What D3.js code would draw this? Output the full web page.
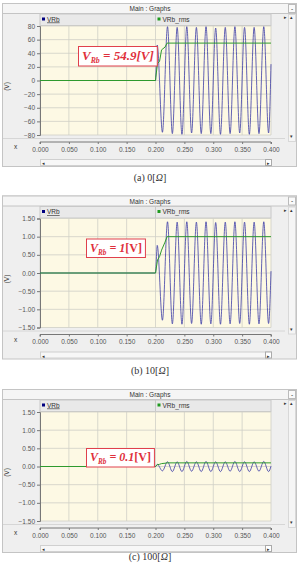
<!DOCTYPE html>
<html>
<head>
<meta charset="utf-8">
<script src="https://cdn.jsdelivr.net/npm/d3@7"></script>
<style>
  body { margin: 0; background: #fff; }
  svg { display: block; }
  .tick text { font-family: "Liberation Sans", Arial, sans-serif; font-size: 6.5px; fill: #555; }
  .small { font-family: "Liberation Sans", Arial, sans-serif; font-size: 6.5px; fill: #333; }
  .caption { font-family: "Liberation Serif", "DejaVu Serif", serif; font-size: 10px; fill: #333; }
  .ann { font-family: "Liberation Serif", "Times New Roman", serif; font-weight: bold; fill: #e0303c; }
</style>
</head>
<body>
<div id="chart"></div>
<script>
// ------------------------------------------
//  Data
// ------------------------------------------
const xTicks = [0, 0.05, 0.1, 0.15, 0.2, 0.25, 0.3, 0.35, 0.4];
const yTicksA = [80, 60, 40, 20, 0, -20, -40, -60, -80];
const yTicksB = [1.5, 1.0, 0.5, 0.0, -0.5, -1.0, -1.5];
const yTicksC = [1.5, 1.0, 0.5, 0.0, -0.5, -1.0, -1.5];

// VRb extrema (time in s)
const waveT = [0, 0.2, 0.2030, 0.2120, 0.2208, 0.2292, 0.2375, 0.2458, 0.2542, 0.2625,
  0.2708, 0.2792, 0.2875, 0.2958, 0.3042, 0.3125, 0.3208, 0.3292, 0.3375, 0.3458,
  0.3542, 0.3625, 0.3708, 0.3792, 0.3875, 0.3958, 0.4];
const waveA = [0, 0, 52, -76, 79, -78, 78, -79, 79, -77, 78, -78, 79, -78,
  77, -79, 78, -78, 79, -77, 78, -79, 78, -78, 79, -77, 24];
const waveB = [0, 0, 0.76, -1.30, 1.41, -1.40, 1.40, -1.41, 1.41, -1.39, 1.40, -1.41, 1.41, -1.40,
  1.39, -1.41, 1.40, -1.40, 1.41, -1.39, 1.40, -1.41, 1.40, -1.40, 1.41, -1.39, 0.05];
const waveC = [0, 0, 0.06, -0.12, 0.13, -0.14, 0.13, -0.14, 0.14, -0.13, 0.13, -0.14, 0.14, -0.14,
  0.13, -0.14, 0.13, -0.13, 0.14, -0.14, 0.13, -0.14, 0.13, -0.13, 0.14, -0.14, 0.01];

// VRb_rms
const rmsT = [0, 0.2, 0.2005, 0.2035, 0.207, 0.2105, 0.2165, 0.22, 0.4];
const rmsA = [0, 0, 5, 25, 28, 45, 49, 54.9, 54.9];
const rmsB = [0, 0, 0.05, 0.36, 0.45, 0.63, 0.85, 1.0, 1.0];
const rmsC = [0, 0, 0.01, 0.05, 0.06, 0.08, 0.09, 0.1, 0.1];

const annValues = ["54.9", "1", "0.1"];
const captions = ["(a)  0[", "(b)  10[", "(c)  100["];
const seriesNames = ["VRb", "VRb_rms"];

// ------------------------------------------
//  Layout
// ------------------------------------------
const W = 299, H = 563;
const plotX0 = 40, plotX1 = 271, plotH = 109;

const panels = [
  { top: 26, yTicks: yTicksA, domain: [-80, 80], fmt: d3.format("d"), wave: waveA, rms: rmsA,
    ann: { x: 78, y: 20, size: 13, italicUnit: true } },
  { top: 218.5, yTicks: yTicksB, domain: [-1.5, 1.5], fmt: d3.format(".2f"), wave: waveB, rms: rmsB,
    ann: { x: 86, y: 20, size: 12, italicUnit: false } },
  { top: 412, yTicks: yTicksC, domain: [-1.5, 1.5], fmt: d3.format(".2f"), wave: waveC, rms: rmsC,
    ann: { x: 86, y: 36, size: 12, italicUnit: false } }
];

const svg = d3.select("#chart").append("svg").attr("width", W).attr("height", H);
const x = d3.scaleLinear().domain([0, 0.4]).range([plotX0, plotX1]);

function drawPanel(p, i) {
  const g = svg.append("g").attr("transform", `translate(0,${p.top})`);
  const y = d3.scaleLinear().domain(p.domain).range([plotH, 0]);

  // outer window
  g.append("rect").attr("x", 2.5).attr("y", -22.5).attr("width", 294).attr("height", 163)
    .attr("fill", "#efefef").attr("stroke", "#c4c4c4");
  // title bar
  g.append("rect").attr("x", 2.5).attr("y", -22.5).attr("width", 294).attr("height", 10)
    .attr("fill", "#f5f5f5").attr("stroke", "#c4c4c4");
  g.append("text").attr("class", "small").attr("x", 150).attr("y", -15)
    .attr("text-anchor", "middle").text("Main : Graphs");
  g.append("rect").attr("x", 288.5).attr("y", -21.5).attr("width", 7).attr("height", 8)
    .attr("fill", "#fafafa").attr("stroke", "#bbb");
  g.append("text").attr("class", "small").attr("x", 292).attr("y", -15.5)
    .attr("text-anchor", "middle").text("-");

  // legend tabs
  seriesNames.forEach((name, k) => {
    const tx = k === 0 ? 40 : 155.5;
    g.append("rect").attr("x", tx).attr("y", -12).attr("width", 115.5).attr("height", 11.5)
      .attr("fill", "#e9e9e9").attr("stroke", "#c8c8c8");
    g.append("rect").attr("x", tx + 2).attr("y", -8.5).attr("width", 3).attr("height", 3)
      .attr("fill", k === 0 ? "#000080" : "#1f9a1f");
    g.append("text").attr("class", "small").attr("x", tx + 7).attr("y", -4.5)
      .style("text-decoration", k === 0 ? "underline" : null).text(name);
  });

  // right-side scroller
  g.append("rect").attr("x", 288.5).attr("y", -11.5).attr("width", 7).attr("height", 127)
    .attr("fill", "#f5f5f5").attr("stroke", "#d8d8d8");
  g.append("text").attr("class", "small").attr("x", 284).attr("y", -7).style("font-size", "5px").text("\u25B8");
  g.append("text").attr("class", "small").attr("x", 290).attr("y", -7).style("font-size", "5px").text("\u25B4");
  g.append("text").attr("class", "small").attr("x", 290).attr("y", plotH + 3).style("font-size", "5px").text("\u25BE");

  // plot area
  g.append("rect").attr("x", plotX0).attr("y", 0).attr("width", plotX1 - plotX0).attr("height", plotH)
    .attr("fill", "#fdf9e4");
  g.append("g").selectAll("line").data(xTicks).join("line")
    .attr("x1", d => x(d)).attr("x2", d => x(d)).attr("y1", 0).attr("y2", plotH)
    .attr("stroke", "#cfcfc6").attr("stroke-width", 0.8);
  g.append("g").selectAll("line").data(p.yTicks).join("line")
    .attr("x1", plotX0).attr("x2", plotX1).attr("y1", d => y(d)).attr("y2", d => y(d))
    .attr("stroke", "#cfcfc6").attr("stroke-width", 0.8);

  // y axis
  const ya = g.append("g").attr("transform", `translate(${plotX0},0)`)
    .call(d3.axisLeft(y).tickValues(p.yTicks).tickFormat(p.fmt).tickSize(3).tickPadding(2));
  ya.selectAll("line, path").attr("stroke", "#777");
  g.append("text").attr("class", "small").attr("transform", `translate(9,${plotH / 2 + 6}) rotate(-90)`)
    .attr("text-anchor", "middle").text("(V)");

  // x axis
  g.append("line").attr("x1", 3).attr("x2", 285).attr("y1", plotH + 3.5).attr("y2", plotH + 3.5)
    .attr("stroke", "#d6d6d6");
  const xa = g.append("g").attr("transform", `translate(0,${plotH + 7})`)
    .call(d3.axisBottom(x).tickValues(xTicks).tickFormat(d3.format(".3f")).tickSize(2).tickPadding(3));
  xa.select("path").attr("stroke", "#777").attr("d", `M${plotX0},2V0H${plotX1}V2`);
  xa.selectAll("line").attr("stroke", "#777");
  g.append("text").attr("class", "small").attr("x", 14).attr("y", plotH + 14).text("x");

  // horizontal scrollbar
  g.append("rect").attr("x", 40.5).attr("y", plotH + 24.5).attr("width", 231).attr("height", 6)
    .attr("fill", "#f7f7f7").attr("stroke", "#d0d0d0");
  g.append("text").attr("class", "small").attr("x", 41.5).attr("y", plotH + 30).style("font-size", "5px").text("\u25C2");
  g.append("rect").attr("x", 265.5).attr("y", plotH + 24.5).attr("width", 6).attr("height", 6)
    .attr("fill", "#fff").attr("stroke", "#aaa");
  g.append("text").attr("class", "small").attr("x", 266.5).attr("y", plotH + 30).style("font-size", "5px").text("\u25B8");

  // series
  const waveLine = d3.line().x(d => x(d[0])).y(d => y(d[1])).curve(d3.curveMonotoneX);
  const rmsLine = d3.line().x(d => x(d[0])).y(d => y(d[1]));
  g.append("path").datum(d3.zip(waveT, p.wave)).attr("d", waveLine)
    .attr("fill", "none").attr("stroke", "#3b3ba6").attr("stroke-width", 0.8);
  g.append("path").datum(d3.zip(rmsT, p.rms)).attr("d", rmsLine)
    .attr("fill", "none").attr("stroke", "#2e9a2e").attr("stroke-width", 1);

  // annotation box
  const a = p.ann;
  const at = g.append("text").attr("class", "ann").attr("x", a.x + 4).attr("y", a.y + a.size + 1)
    .style("font-size", a.size + "px");
  at.append("tspan").style("font-style", "italic").text("V");
  at.append("tspan").style("font-style", "italic").style("font-size", (a.size * 0.6) + "px")
    .attr("dy", 3).text("Rb");
  at.append("tspan").attr("dy", -3).style("font-style", "italic").text(" = " + annValues[i]);
  at.append("tspan").style("font-style", a.italicUnit ? "italic" : "normal").text("[V]");
  const bb = at.node().getBBox();
  g.insert("rect", "text.ann").attr("x", a.x + 0.5).attr("y", bb.y - 1.5)
    .attr("width", bb.width + 7).attr("height", bb.height + 2.5)
    .attr("fill", "#fff").attr("stroke", "#e0404c").attr("stroke-width", 1);

  // caption (kept inside the page for the last panel)
  const capY = Math.min(p.top + plotH + 46, H - 3) - p.top;
  const cap = g.append("text").attr("class", "caption").attr("x", 150).attr("y", capY)
    .attr("text-anchor", "middle");
  cap.append("tspan").text(captions[i]);
  cap.append("tspan").style("font-style", "italic").text("\u03A9");
  cap.append("tspan").text("]");
}

panels.forEach(drawPanel);
</script>
</body>
</html>
